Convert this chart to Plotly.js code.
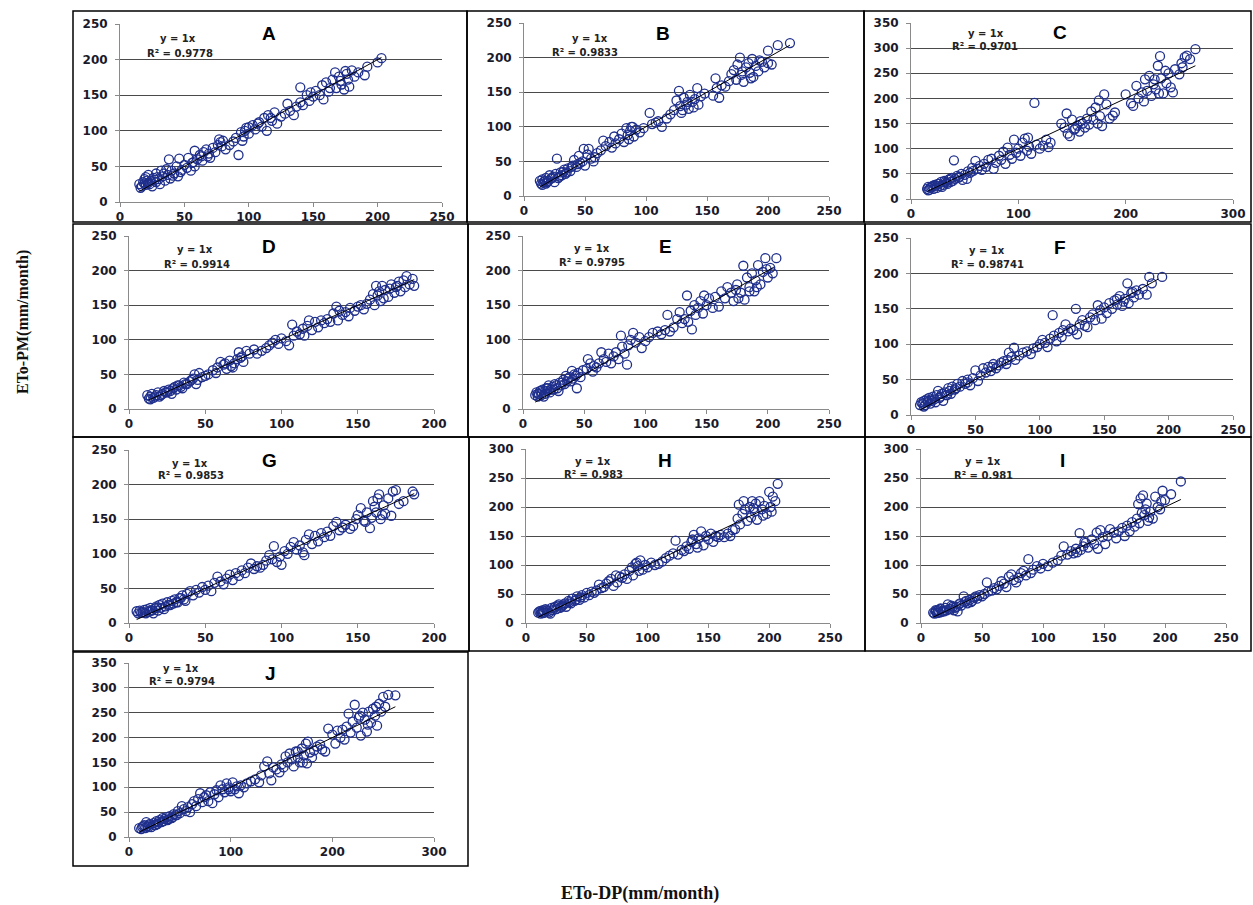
<!DOCTYPE html>
<html><head><meta charset="utf-8">
<script src="https://cdn.plot.ly/plotly-3.0.1.min.js"></script>
<style>html,body{margin:0;padding:0;background:#fff}#c{width:1253px;height:905px}</style>
</head><body><div id="c"></div>
<script>
// ---------- DATA ----------
const panelLabels = ['A','B','C','D','E','F','G','H','I','J'];
const r2Values = ['0.9778','0.9833','0.9701','0.9914','0.9795','0.98741','0.9853','0.983','0.981','0.9794'];
const eqText = 'y = 1x';
const xTitle = 'ETo-DP(mm/month)';
const yTitle = 'ETo-PM(mm/month)';

const aX=[15,17,18,19,20,20,22,22,24,25,26,28,28,30,31,32,33,35,36,37,38,39,40,42,44,45,46,48,50,52,53,55,56,58,58,60,62,64,65,67,68,70,72,74,76,77,78,80,82,85,88,90,92,94,95,97,100,100,103,105,108,110,112,114,115,118,120,122,125,128,130,132,135,137,140,140,142,145,147,150,152,155,157,158,160,162,165,167,168,170,172,174,175,177,178,180,182,185,190,192,200,203,16,19,21,23,27,29,34,41,47,57,63,69,79,96,98,107,117,148,163,171,176];
const aY=[25,22,28,32,24,35,27,38,30,22,34,28,40,32,25,44,36,30,46,38,60,33,44,40,50,36,61,45,52,48,62,44,55,50,72,60,66,58,70,74,64,62,76,70,80,88,84,86,74,80,85,90,66,98,86,100,96,105,108,102,112,106,118,100,122,114,126,110,120,124,138,128,122,134,161,140,136,150,142,148,156,150,164,144,168,155,172,182,160,176,165,158,184,172,162,185,176,182,178,190,196,202,20,26,30,25,31,35,40,37,42,56,64,68,78,92,104,110,118,154,160,170,180];

const bX=[13,14,15,16,18,18,20,21,22,24,25,26,27,28,30,31,33,34,36,38,40,41,43,45,46,48,49,50,52,53,55,58,60,63,65,67,70,72,74,75,78,80,82,84,85,87,89,90,92,95,98,103,105,108,110,113,117,120,123,125,127,128,130,131,133,135,136,138,140,142,143,145,148,155,157,158,160,162,165,168,170,172,174,175,177,178,180,182,184,185,187,188,190,192,195,197,200,200,203,208,218,15,17,19,23,29,32,35,39,44,57,86,88,129,134,139,179,186,193];
const bY=[22,18,24,20,26,18,22,30,25,28,20,32,54,26,34,30,38,32,40,36,44,52,42,58,48,50,68,44,60,68,54,56,62,66,80,72,78,70,86,76,82,90,78,98,88,94,100,86,96,92,98,120,104,106,108,100,112,118,124,138,152,130,124,142,132,126,146,136,140,156,132,144,148,145,170,156,142,160,158,166,176,182,168,190,200,175,165,186,192,178,198,172,188,180,194,186,210,192,190,218,221,16,22,20,26,28,35,34,42,46,50,82,100,120,136,128,180,170,196];

const cX=[15,16,17,18,20,21,22,24,25,27,28,30,31,33,35,37,38,40,41,43,45,47,50,52,53,55,57,60,62,64,66,68,70,72,75,77,79,82,84,86,88,90,92,94,96,98,100,102,104,106,108,110,112,115,117,120,123,126,128,130,140,143,145,146,148,150,152,155,157,160,162,164,166,168,170,172,174,175,176,178,180,182,185,188,190,200,205,207,210,212,215,217,218,220,222,224,226,228,230,232,233,235,237,238,240,242,244,246,250,252,253,255,257,260,265,16,19,23,26,29,32,34,36,39,44,48,58,109,153,158,227,231];
const cY=[20,24,18,22,26,20,28,22,30,26,34,28,36,32,38,34,42,77,40,46,44,50,48,40,55,52,62,76,60,66,58,70,64,78,80,60,72,86,78,94,70,102,88,80,118,92,100,86,112,120,96,104,90,191,108,100,106,118,103,112,150,142,170,130,125,158,138,146,134,150,142,160,148,174,158,182,150,196,165,145,208,188,160,166,172,208,190,185,225,200,212,194,238,215,245,205,228,218,265,284,240,210,255,230,250,222,212,258,248,270,262,282,285,278,298,17,24,26,30,24,34,30,40,36,42,38,56,122,140,155,238,210];

const dX=[12,13,14,15,16,18,19,20,22,23,25,26,28,30,31,33,35,36,38,40,42,43,45,46,48,50,52,55,57,58,60,62,64,66,67,69,71,72,74,75,77,79,82,84,87,90,92,94,96,98,100,103,105,107,108,110,112,114,115,117,118,120,122,124,126,128,130,132,134,136,137,138,140,142,144,145,148,150,152,154,156,158,160,161,162,164,165,166,168,170,172,174,175,177,178,180,182,184,186,187,14,17,21,24,27,29,32,34,37,41,44,63,68,73,163,167,171,176,181];
const dY=[20,15,18,22,16,20,24,18,22,26,24,28,22,32,28,34,30,38,36,40,44,50,42,52,46,48,50,56,52,60,68,64,58,70,62,66,72,82,76,68,84,80,86,80,84,88,92,96,100,94,102,98,92,122,106,112,108,116,106,120,128,114,126,118,128,124,130,126,138,148,128,142,136,140,134,146,142,148,150,144,152,158,166,150,178,170,156,178,172,162,180,168,176,184,170,186,192,180,188,178,14,18,20,24,26,30,34,32,36,42,36,66,60,74,164,160,174,178,176];

const eX=[10,11,12,13,14,15,16,18,19,20,21,22,24,25,26,28,30,31,33,34,35,36,38,40,41,43,44,45,47,49,52,53,55,57,58,60,62,64,66,68,70,72,74,76,78,80,81,83,85,86,88,90,92,95,97,100,103,106,110,113,116,118,120,123,126,128,130,132,134,135,137,138,140,141,143,145,147,148,150,152,155,157,160,162,165,167,170,172,174,175,176,178,180,181,183,185,187,189,190,192,194,196,198,200,202,204,207,12,15,17,20,23,27,29,32,37,39,42,185,191,199];
const eY=[20,24,18,22,26,20,28,22,30,26,34,24,32,28,36,30,38,34,42,36,48,40,46,55,44,48,30,52,46,56,58,72,66,54,62,60,66,82,72,68,80,66,76,82,72,106,90,80,64,92,100,110,96,104,88,98,104,110,112,108,114,136,112,118,130,140,124,130,164,126,142,115,150,136,146,156,138,164,150,160,146,162,148,170,160,176,168,156,172,180,160,168,207,158,190,176,196,170,186,208,180,198,218,190,204,196,218,22,24,18,30,28,34,26,38,44,40,50,170,176,202];

const fX=[7,8,9,10,11,12,13,14,15,16,17,18,20,21,22,24,25,26,28,29,30,32,34,36,38,40,42,44,46,48,50,52,54,56,58,60,62,64,66,68,70,72,74,76,78,80,81,84,87,90,93,95,98,100,102,104,106,108,110,111,113,115,117,120,122,124,126,128,129,131,133,135,137,139,141,143,145,147,148,150,152,154,156,158,160,162,164,166,168,169,171,173,175,177,180,183,185,187,195,10,13,16,19,23,27,31,35,44,63,75,118,160,165,172];
const fY=[14,18,16,20,14,22,18,24,16,20,26,22,28,34,24,30,20,32,28,38,34,40,36,44,40,48,44,50,42,52,63,48,56,66,60,68,62,72,66,70,74,76,72,88,82,95,78,84,88,90,86,94,96,100,106,102,96,108,141,112,104,116,110,128,118,122,120,150,114,128,134,126,124,138,142,134,155,148,136,152,144,158,150,162,156,168,154,164,186,158,172,166,176,170,178,170,195,186,195,12,20,22,18,26,28,30,38,46,68,78,120,164,160,174];

const gX=[5,6,7,8,9,10,11,12,13,14,15,16,17,18,19,20,21,22,24,25,27,28,30,31,33,35,36,38,40,42,44,46,48,50,52,54,56,58,60,62,64,66,68,70,72,74,76,78,80,82,84,86,88,90,92,94,95,97,99,100,102,104,106,108,110,112,114,115,116,118,120,122,124,126,128,130,132,134,136,138,140,142,145,147,149,150,152,154,156,158,159,160,162,163,164,165,167,168,170,172,173,175,177,180,186,187,10,14,18,23,26,29,32,34,37,155,161,166];
const gY=[17,14,18,15,16,19,14,20,16,22,18,14,21,24,18,26,22,28,24,30,26,32,34,30,36,40,34,42,46,40,48,44,52,48,54,46,58,67,60,56,64,70,62,72,68,76,72,80,86,78,82,80,84,90,98,92,111,88,96,84,104,100,110,117,106,112,102,98,120,128,114,126,118,130,124,132,126,140,146,134,138,142,136,140,150,156,166,148,160,137,152,176,160,180,186,150,170,158,180,155,190,192,172,176,190,186,15,18,22,20,26,28,30,36,32,146,168,156];

const hX=[10,11,12,13,14,15,16,18,20,21,22,24,25,27,28,30,32,33,35,37,38,40,42,44,46,48,50,52,54,56,58,60,62,64,66,68,70,72,74,75,77,79,81,83,85,87,88,90,92,94,96,98,100,103,106,109,112,115,118,121,123,125,128,130,132,134,136,138,140,142,144,146,148,150,152,154,156,158,160,163,166,168,170,172,174,175,176,178,179,180,182,184,185,186,188,189,190,192,194,196,198,200,201,202,203,205,207,12,14,17,19,23,26,29,31,36,41,45,91,93,137,141,187,195];
const hY=[18,20,16,19,22,18,24,20,16,26,22,28,24,32,26,30,34,28,38,34,42,38,46,40,48,44,52,48,54,52,56,66,60,62,68,72,76,64,82,70,80,78,84,76,90,96,82,102,98,108,92,100,96,104,100,102,106,112,116,120,142,118,126,124,132,128,140,152,136,146,158,134,150,144,154,140,150,148,152,148,154,150,160,162,180,204,170,188,210,196,176,200,182,210,192,206,178,210,196,202,188,226,200,192,218,210,240,21,17,22,18,26,30,28,32,36,40,44,104,90,144,130,198,185];

const iX=[10,11,12,13,14,15,16,17,18,20,21,22,24,26,28,30,31,33,35,36,38,40,42,44,46,48,50,52,54,55,58,60,62,64,66,68,70,72,74,76,78,80,82,84,86,88,90,92,95,98,100,104,108,112,115,117,120,123,125,127,130,131,133,135,137,140,142,144,145,147,149,151,153,155,158,160,162,165,167,169,171,173,175,177,178,179,180,182,183,184,185,186,188,190,192,194,196,197,198,200,205,213,12,14,16,19,23,25,27,29,32,37,41,45,128,134,181,187];
const iY=[18,16,20,17,22,18,24,19,21,26,22,32,24,28,26,20,32,30,46,36,34,40,38,44,42,48,46,50,70,54,56,60,58,64,72,68,62,80,84,74,70,78,86,90,82,110,86,92,98,94,102,98,104,108,116,132,118,124,120,128,155,126,132,138,130,144,136,156,128,160,148,136,150,162,156,146,158,164,150,168,158,174,166,180,205,172,215,220,186,196,206,176,192,180,218,200,196,210,228,212,222,244,22,18,25,20,24,30,22,28,34,38,36,46,122,140,190,182];

const jX=[10,12,13,15,16,17,18,20,22,24,25,27,28,30,32,33,35,37,38,40,42,44,46,48,50,52,54,56,58,60,62,64,66,68,70,72,74,76,78,80,82,84,86,88,90,92,94,96,98,100,102,104,106,108,110,113,116,120,124,128,130,133,136,138,140,142,145,148,150,152,154,156,158,160,162,164,166,168,170,172,174,175,176,178,180,182,185,188,190,193,196,200,203,205,208,210,212,214,216,218,220,222,224,226,228,230,232,234,236,238,240,242,244,246,248,250,252,255,262,14,19,21,26,29,34,39,43,47,98,166,171,227,235,243];
const jY=[18,16,20,24,18,30,22,26,20,28,24,32,26,34,30,38,36,40,34,42,38,46,44,52,48,62,56,52,60,50,66,72,62,76,88,70,80,84,72,90,68,86,94,80,104,96,90,108,100,92,110,96,102,88,104,100,108,112,116,110,124,142,152,128,114,140,136,130,146,140,162,150,168,156,142,172,160,150,178,164,188,148,192,170,160,174,182,186,176,172,218,206,188,214,200,216,196,222,248,210,232,266,220,240,204,250,236,212,252,230,258,244,224,268,252,282,262,286,285,22,20,26,24,30,32,36,40,44,96,172,150,244,226,262];

// regression line y = 1x drawn over each panel's x span
const fitA=[15,203], fitB=[13,218], fitC=[15,265], fitD=[13,187], fitE=[10,205];
const fitF=[7,192], fitG=[5,187], fitH=[10,205], fitI=[10,213], fitJ=[10,262];

const xsAll=[aX,bX,cX,dX,eX,fX,gX,hX,iX,jX];
const ysAll=[aY,bY,cY,dY,eY,fY,gY,hY,iY,jY];
const fitsAll=[fitA,fitB,fitC,fitD,fitE,fitF,fitG,fitH,fitI,fitJ];

// axis extents per panel
const xMax=[250,250,300,200,250,250,200,250,250,300];
const yMax=[250,250,350,250,250,250,250,300,300,350];
const xStep=[50,50,100,50,50,50,50,50,50,100];

// ---------- LAYOUT GEOMETRY (pixels) ----------
const W=1253,H=905;
const plotBox=[ // left,right,top,bottom of plotting area
 [120,442,24,202],[524,829,23,196],[911,1233,23,199],
 [129,434,236,409],[523,829,236,409],[911,1233,238,415],
 [129,434,450,623],[526,830,449,623],[921,1226,449,623],
 [129,434,663,837]];
const frameBox=[
 [73,467,11,222],[467,864,11,222],[864,1251,11,222],
 [73,468,224,437],[468,865,224,437],[865,1251,224,437],
 [73,469,437,651],[469,865,437,651],[865,1251,437,651],
 [73,468,652,866]];
const eqPos=[[178,39,180,53],[590,39,585,52],[986,34,985,46],[195,250,197,264],[592,249,592,262],
 [987,251,987,264],[190,463,191,475],[593,461,593,474],[983,462,983,475],[181,668,182,681]];
const letterPos=[[269,34],[663,34],[1060,33],[269,246],[665,246],[1060,247],[269,460],[665,460],[1062,460],[270,673]];

const px=v=>v/W, py=v=>1-v/H;
const tickFont={family:'DejaVu Sans, Verdana, sans-serif',size:12,color:'#1a1a2a',weight:700};
const data=[], shapes=[], annotations=[];
const layout={width:W,height:H,margin:{l:0,r:0,t:0,b:0},paper_bgcolor:'#fff',plot_bgcolor:'#fff',
  showlegend:false,font:{family:'DejaVu Sans, sans-serif'}};

for(let i=0;i<10;i++){
  const n=i===0?'':String(i+1);
  const [l,r,t,b]=plotBox[i];
  layout['xaxis'+n]={domain:[px(l),px(r)],range:[0,xMax[i]],dtick:xStep[i],tick0:0,anchor:'y'+n,
    showgrid:false,zeroline:false,showline:true,linecolor:'#8a8a8a',linewidth:1,ticks:'outside',
    ticklen:4,tickcolor:'#8a8a8a',tickfont:tickFont,fixedrange:true};
  layout['yaxis'+n]={domain:[py(b),py(t)],range:[0,yMax[i]],dtick:50,tick0:0,anchor:'x'+n,
    showgrid:true,gridcolor:'#4a4a4a',gridwidth:1,zeroline:false,showline:true,linecolor:'#8a8a8a',
    linewidth:1,ticks:'outside',ticklen:4,tickcolor:'#8a8a8a',tickfont:tickFont,ticklabelstandoff:5,fixedrange:true};
  data.push({type:'scatter',mode:'markers',x:xsAll[i],y:ysAll[i],xaxis:'x'+n,yaxis:'y'+n,
    marker:{symbol:'circle-open',size:9,color:'#1f2f8c',line:{width:1.3,color:'#1f2f8c'}},hoverinfo:'x+y'});
  data.push({type:'scatter',mode:'lines',x:fitsAll[i],y:fitsAll[i],xaxis:'x'+n,yaxis:'y'+n,
    line:{color:'#000',width:1},hoverinfo:'skip'});
  const [fl,fr,ft,fb]=frameBox[i];
  shapes.push({type:'rect',xref:'paper',yref:'paper',x0:px(fl),x1:px(fr),y0:py(fb),y1:py(ft),
    line:{color:'#000',width:1.5},fillcolor:'rgba(0,0,0,0)',layer:'above'});
  const e=eqPos[i];
  annotations.push({xref:'paper',yref:'paper',x:px(e[0]),y:py(e[1]),text:eqText,showarrow:false,
    xanchor:'center',yanchor:'middle',font:{family:'DejaVu Sans, sans-serif',size:10,color:'#222',weight:700}});
  annotations.push({xref:'paper',yref:'paper',x:px(e[2]),y:py(e[3]),text:'R² = '+r2Values[i],showarrow:false,
    xanchor:'center',yanchor:'middle',font:{family:'DejaVu Sans, sans-serif',size:10,color:'#222',weight:700}});
  const lp=letterPos[i];
  annotations.push({xref:'paper',yref:'paper',x:px(lp[0]),y:py(lp[1]),text:panelLabels[i],showarrow:false,
    xanchor:'center',yanchor:'middle',font:{family:'Liberation Sans, Arial, sans-serif',size:19,color:'#000',weight:700}});
}
annotations.push({xref:'paper',yref:'paper',x:px(23),y:py(322),text:yTitle,showarrow:false,textangle:-90,
  xanchor:'center',yanchor:'middle',font:{family:'Liberation Serif, Times New Roman, serif',size:16,color:'#111',weight:700}});
annotations.push({xref:'paper',yref:'paper',x:px(640),y:py(893),text:xTitle,showarrow:false,
  xanchor:'center',yanchor:'middle',font:{family:'Liberation Serif, Times New Roman, serif',size:18,color:'#111',weight:700}});
layout.shapes=shapes; layout.annotations=annotations;
Plotly.newPlot('c',data,layout,{displayModeBar:false,staticPlot:true});
</script></body></html>
